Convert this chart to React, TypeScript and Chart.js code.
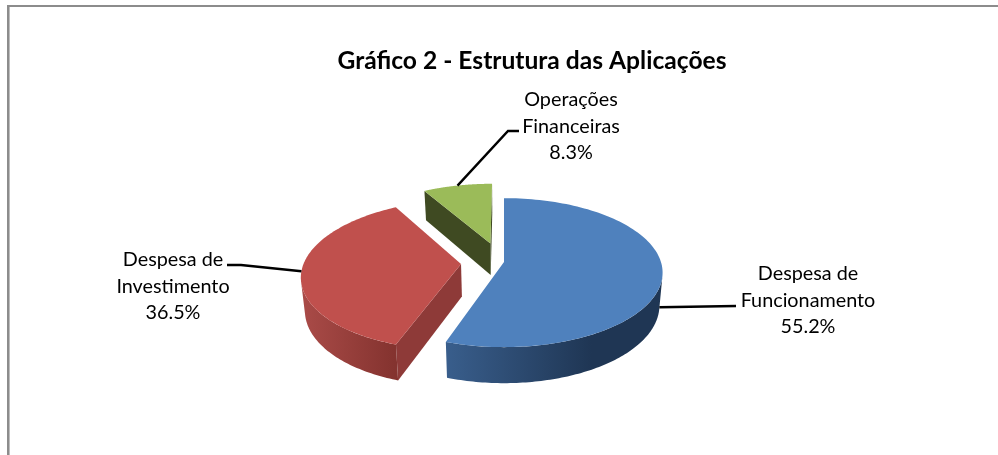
import React, { useEffect, useRef } from "react";
import { Chart, registerables } from "chart.js";

Chart.register(...registerables);

const titleText = "Gráfico 2 - Estrutura das Aplicações";
const categories = [
  ["Despesa de", "Funcionamento"],
  ["Despesa de", "Investimento"],
  ["Operações", "Financeiras"],
];
const shares = [55.2, 36.5, 8.3];
const explode = [0, 43, 43];
const explodeShiftX = [0, 0, -3];
const topColors = ["#4F81BD", "#C0504D", "#9BBB59"];
const cutColors = ["#1F3654", "#8E3A38", "#3F4A22"];
const wallLight = ["#395E8C", "#AA4B48", "#3F4A22"];
const wallDark = ["#1F3654", "#84332F", "#3F4A22"];
const wallSpanDeg = [48, 71, 1];
const FONT = "Lato, 'Open Sans', sans-serif";

// label layout: text centre, first-line centre, leader elbow and end; anchor on bottom rim or top rim
const labelCenterX = [808, 173, 571];
const labelFirstY = [274, 260, 100];
const lineStep = 26.2;
const leaderVia = [[736, 306], [241, 265], [508, 131]];
const leaderEnd = [[736, 306], [227, 265], [519, 131]];
const leaderOnLowerRim = [true, false, false];

// view settings for the simulated 3D projection
const PERSPECTIVE = 0.0009;
const TILT = 0.465;
const DEPTH = 32.4;
const LOWER_SCALE = 0.98;
const VIEW_DX = -28;

const pie3d = {
  id: "pie3d",
  beforeDatasetsDraw(chart: any) {
    const ctx: CanvasRenderingContext2D = chart.ctx;
    const arcs = chart.getDatasetMeta(0).data;
    const vx = arcs[0].x + VIEW_DX;
    const vy = arcs[0].y;
    const project = (i: number, theta: number, r: number, off: number, mid: number, lower: boolean) => {
      const wx = off * Math.sin(mid) + r * Math.sin(theta) + explodeShiftX[i];
      const wy = -(off * Math.cos(mid) + r * Math.cos(theta));
      const s = 1 / (1 - wy * PERSPECTIVE);
      const f = lower ? LOWER_SCALE : 1;
      return [vx + wx * s * f, vy + wy * TILT * s * f + (lower ? DEPTH * s : 0)];
    };
    const poly = (pts: number[][], fill: string | CanvasGradient) => {
      ctx.beginPath();
      pts.forEach((p, i) => (i ? ctx.lineTo(p[0], p[1]) : ctx.moveTo(p[0], p[1])));
      ctx.closePath();
      ctx.fillStyle = fill;
      ctx.fill();
    };
    const area = (q: number[][]) =>
      q.reduce((sum, p, i) => {
        const n = q[(i + 1) % q.length];
        return sum + p[0] * n[1] - n[0] * p[1];
      }, 0);

    const geoms = arcs.map((arc: any, i: number) => {
      const a0 = arc.startAngle + Math.PI / 2;
      const a1 = arc.endAngle + Math.PI / 2;
      return { i, a0, a1, mid: (a0 + a1) / 2, r: arc.outerRadius, off: arc.options.offset };
    });

    // walls first
    geoms.forEach(({ i, a0, a1, mid, r, off }: any) => {
      const P = (t: number, rad: number, low: boolean) => project(i, t, rad, off, mid, low);
      const quad = (ta: number, ra: number, tb: number, rb: number) => [
        P(ta, ra, false), P(tb, rb, false), P(tb, rb, true), P(ta, ra, true),
      ];
      const startCut = quad(a0, 0, a0, r);
      const endCut = quad(a1, r, a1, 0);
      if (area(startCut) < -0.5) poly(startCut, cutColors[i]);
      if (area(endCut) < -0.5) poly(endCut, cutColors[i]);

      // the part of the outer rim that faces the viewer, as one shape with a sideways gradient
      const step = (Math.PI / 180) * 1;
      const upper: number[][] = [];
      const lowerRim: number[][] = [];
      for (let t = a0; t < a1; t += step) {
        const t2 = Math.min(t + step, a1);
        if (area(quad(t, r, t2, r)) < -0.01) {
          if (!upper.length) { upper.push(P(t, r, false)); lowerRim.push(P(t, r, true)); }
          upper.push(P(t2, r, false));
          lowerRim.push(P(t2, r, true));
        }
      }
      if (upper.length > 1) {
        const xLight = upper[upper.length - 1][0];
        const visibleEnd = Math.min(a1, Math.PI * 1.5);
        const xDark = P(visibleEnd - (wallSpanDeg[i] * Math.PI) / 180, r, false)[0];
        const g = ctx.createLinearGradient(xLight, 0, xDark, 0);
        g.addColorStop(0, wallLight[i]);
        g.addColorStop(1, wallDark[i]);
        poly([...upper, ...lowerRim.reverse()], g);
      }
    });

    // top faces
    geoms.forEach(({ i, a0, a1, mid, r, off }: any) => {
      const pts = [project(i, a0, 0, off, mid, false)];
      const n = 120;
      for (let k = 0; k <= n; k++) pts.push(project(i, a0 + ((a1 - a0) * k) / n, r, off, mid, false));
      poly(pts, topColors[i]);
    });

    // leaders and labels
    ctx.strokeStyle = "#000";
    ctx.lineWidth = 2.4;
    geoms.forEach(({ i, mid, r, off }: any) => {
      const start = project(i, mid, r, off, mid, leaderOnLowerRim[i]);
      ctx.beginPath();
      ctx.moveTo(start[0], start[1]);
      ctx.lineTo(leaderVia[i][0], leaderVia[i][1]);
      ctx.lineTo(leaderEnd[i][0], leaderEnd[i][1]);
      ctx.stroke();
    });
    ctx.fillStyle = "#000";
    ctx.font = `19.8px ${FONT}`;
    ctx.textAlign = "center";
    ctx.textBaseline = "middle";
    categories.forEach((lines, i) => {
      [...lines, `${shares[i].toFixed(1)}%`].forEach((text, j) => {
        ctx.fillText(text, labelCenterX[i], labelFirstY[i] + j * lineStep);
      });
    });
    return false;
  },
};

export default function App() {
  const ref = useRef<HTMLCanvasElement>(null);
  useEffect(() => {
    const chart = new Chart(ref.current as HTMLCanvasElement, {
      type: "pie",
      data: {
        labels: categories.map((c) => c.join(" ")),
        datasets: [{ data: shares, backgroundColor: topColors, offset: explode, borderWidth: 0 }],
      },
      options: {
        responsive: false,
        animation: false,
        radius: 157,
        layout: { padding: { left: 66, right: 0, top: 0, bottom: 13.8 } },
        plugins: {
          legend: { display: false },
          tooltip: { enabled: false },
          title: {
            display: true,
            text: titleText,
            color: "#000",
            font: { family: FONT, size: 24.6, weight: "bold", lineHeight: 1.2 },
            padding: { top: 46.6, bottom: 6.9 },
          },
        },
      } as any,
      plugins: [pie3d as any],
    });
    return () => chart.destroy();
  }, []);
  return (
    <div style={{ position: "fixed", left: 0, top: 0, width: 998, height: 455, background: "#fff", overflow: "hidden" }}>
      <canvas ref={ref} width={998} height={455} style={{ display: "block", position: "absolute", left: 0, top: 0 }} />
      <div style={{ position: "absolute", left: 7, top: 5, right: 0, bottom: 0, borderTop: "2px solid #8C8C8C", borderLeft: "2px solid #8C8C8C", boxShadow: "inset 1px 0 0 #BDBDBD", pointerEvents: "none" }} />
    </div>
  );
}
